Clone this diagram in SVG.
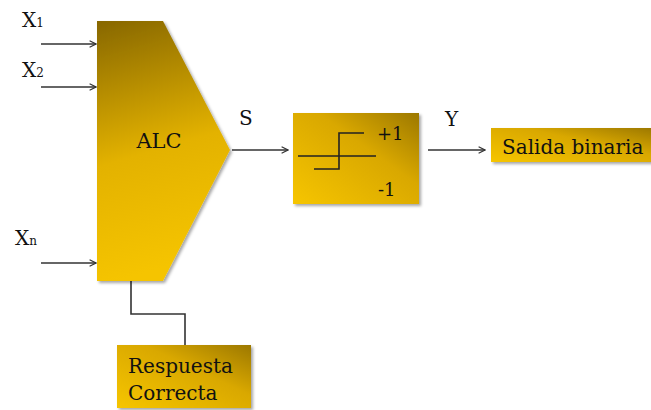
<svg xmlns="http://www.w3.org/2000/svg" width="651" height="410" viewBox="0 0 651 410">
<style>
text{font-family:"DejaVu Serif","Liberation Serif",serif;fill:#111}
.lbl{font-size:20px}
.sub{font-size:12px}
.ln{stroke:#333;stroke-width:1.6;fill:none}
.blk{stroke:#222;stroke-width:1.6;fill:none}
</style>
<defs>
<marker id="ah" viewBox="0 0 10 10" refX="9" refY="5" markerWidth="8" markerHeight="8" orient="auto" markerUnits="userSpaceOnUse">
<path d="M1,1 L9,5 L1,9" fill="none" stroke="#333" stroke-width="1.4"/>
</marker>
<linearGradient id="gAlc" x1="0" y1="0" x2="0.15" y2="1">
<stop offset="0" stop-color="#876700"/>
<stop offset="0.55" stop-color="#e3b200"/>
<stop offset="1" stop-color="#f5c400"/>
</linearGradient>
<linearGradient id="gBox" x1="0" y1="1" x2="1" y2="0">
<stop offset="0" stop-color="#f6c500"/>
<stop offset="0.6" stop-color="#d9a800"/>
<stop offset="1" stop-color="#9c7800"/>
</linearGradient>
<filter id="sh" x="-10%" y="-10%" width="130%" height="130%">
<feDropShadow dx="2" dy="2" stdDeviation="1.5" flood-color="#000" flood-opacity="0.35"/>
</filter>
</defs>
<g id="connectors">
<line class="ln" x1="41" y1="44" x2="96" y2="44" marker-end="url(#ah)"/>
<line class="ln" x1="41" y1="87" x2="96" y2="87" marker-end="url(#ah)"/>
<line class="ln" x1="41" y1="263" x2="96" y2="263" marker-end="url(#ah)"/>
<line class="ln" x1="232" y1="150" x2="288" y2="150" marker-end="url(#ah)"/>
<line class="ln" x1="428" y1="150" x2="485" y2="150" marker-end="url(#ah)"/>
<polyline class="ln" points="131,281 131,314 185,314 185,345"/>
</g>
<g id="labels">
<text class="lbl" x="22" y="27">X<tspan class="sub">1</tspan></text>
<text class="lbl" x="22" y="77">X<tspan class="sub">2</tspan></text>
<text class="lbl" x="15" y="245">X<tspan class="sub">n</tspan></text>
<text class="lbl" x="239" y="125">S</text>
<text class="lbl" x="445" y="126">Y</text>
</g>
<g id="alc">
<polygon points="97,21 163,21 230,150 163,281 97,281" fill="url(#gAlc)" filter="url(#sh)"/>
<text class="lbl" x="159" y="148" text-anchor="middle" style="font-size:21px">ALC</text>
</g>
<g id="step">
<rect x="293" y="113" width="126" height="91" fill="url(#gBox)" filter="url(#sh)"/>
<line class="blk" x1="298" y1="156" x2="376" y2="156"/>
<polyline class="blk" points="314,169 339,169 339,133 364,133"/>
<text x="377" y="140" style="font-size:18px">+1</text>
<text x="378" y="196" style="font-size:18px">-1</text>
</g>
<g id="salida">
<rect x="491" y="128" width="162" height="34" fill="url(#gBox)" filter="url(#sh)"/>
<text class="lbl" x="502" y="154">Salida binaria</text>
</g>
<g id="respuesta">
<rect x="117" y="345" width="134" height="63" fill="url(#gBox)" filter="url(#sh)"/>
<text class="lbl" x="128" y="373">Respuesta</text>
<text class="lbl" x="128" y="400">Correcta</text>
</g>
</svg>
